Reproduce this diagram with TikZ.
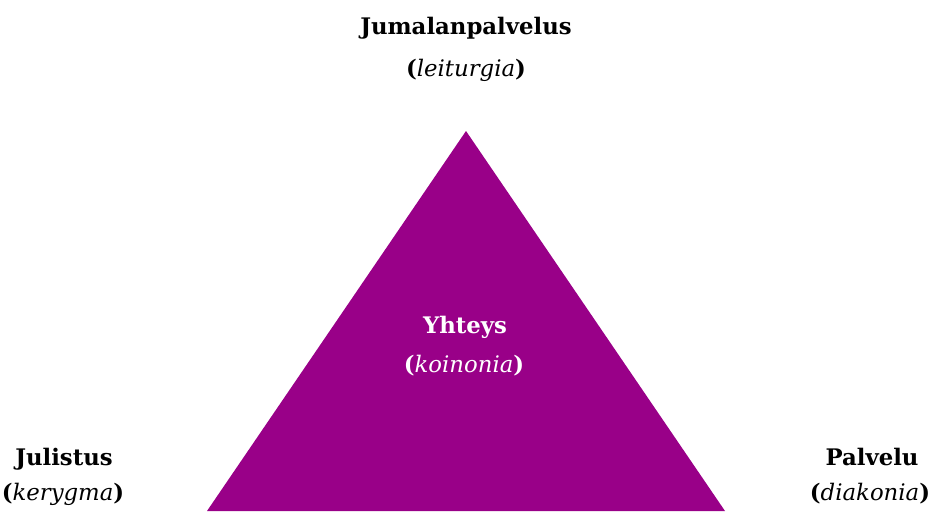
\documentclass[tikz,border=0pt]{standalone}
\usepackage{fontspec}
\setmainfont{DejaVu Serif}
\definecolor{tripurple}{RGB}{153,0,136}
\begin{document}
\begin{tikzpicture}[x=1pt,y=-1pt,
  lbl/.style={anchor=base,inner sep=0pt,font=\fontsize{22.8}{27}\selectfont},
  ttl/.style={lbl,font=\fontsize{22.8}{27}\selectfont\bfseries}]
\useasboundingbox (0,0) rectangle (931,511);
\begin{scope}
\clip (0,0) rectangle (931,511);
\fill[tripurple] (466,131) coordinate (apex) -- (207,511) coordinate (bl) -- (725,511) coordinate (br) -- cycle;
\end{scope}
\node[ttl] (top) at (466,35) {Jumalanpalvelus};
\node[lbl] (topsub) at (466,76) {\textbf{(}\textit{leiturgia}\textbf{)}};
\node[ttl,text=white] (mid) at (465,333) {Yhteys};
\node[lbl,text=white] (midsub) at (464,372) {\textbf{(}\textit{koinonia}\textbf{)}};
\node[ttl] (left) at (64,465) {Julistus};
\node[lbl] (leftsub) at (63,500) {\textbf{(}\textit{kerygma}\textbf{)}};
\node[ttl] (right) at (872,465) {Palvelu};
\node[lbl] (rightsub) at (870,500) {\textbf{(}\textit{diakonia}\textbf{)}};
\end{tikzpicture}
\end{document}
